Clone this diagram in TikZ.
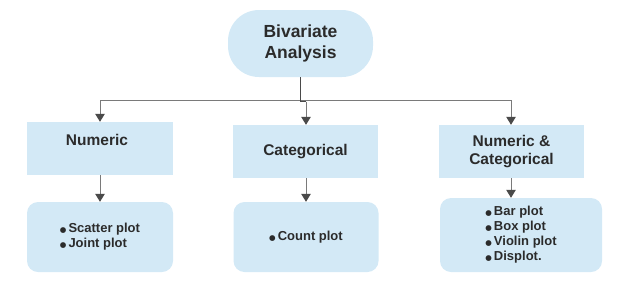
\documentclass[tikz,border=0pt]{standalone}
\usepackage{fontspec}
\setmainfont{Liberation Sans}
\newfontfamily\symfont{DejaVu Sans}
\usetikzlibrary{arrows.meta,calc}
\definecolor{boxfill}{HTML}{D3E9F6}
\definecolor{ink}{HTML}{2B2B2B}
\definecolor{wire}{HTML}{7A7A7A}
\definecolor{tip}{HTML}{4A4A4A}
\tikzset{
  every node/.style={text=ink, font=\bfseries},
  header/.style={fill=boxfill, draw=none, inner sep=0pt, align=center,
    font=\bfseries\fontsize{15.5}{18}\selectfont},
  listbox/.style={fill=boxfill, draw=none, inner sep=0pt, rounded corners=11pt,
    align=left, font=\bfseries\fontsize{13}{15}\selectfont},
  wireline/.style={draw=wire, line width=1pt},
  flow/.style={wireline, -{Triangle[length=8pt,width=9.5pt,fill=tip,color=tip]}},
}
% list bullet: a small filled disc
\newcommand{\itm}{{\symfont\fontsize{7.5}{7.5}\selectfont ●}\hspace{2pt}}
\begin{document}
\begin{tikzpicture}[x=1pt,y=-1pt]
  \useasboundingbox (0,0) rectangle (617,290);

  % root of the tree
  \node[fill=boxfill, rounded corners=31pt, minimum width=145pt, minimum height=67pt,
        inner sep=0pt, align=center, font=\bfseries\fontsize{17.5}{21}\selectfont]
        (root) at (300.5,43.5) {Bivariate\\Analysis};

  % three kinds of variable pairs
  \node[header, minimum width=146pt, minimum height=53pt] (num) at (100,148.5) {};
  \node[text=ink, font=\bfseries\fontsize{15.5}{18}\selectfont] (numlbl) at (97,140) {Numeric};
  \node[header, minimum width=145pt, minimum height=53pt] (cat) at (305.5,151.5) {Categorical};
  \node[header, minimum width=145pt, minimum height=53pt] (mix) at (511.5,151.5) {Numeric \&\\Categorical};

  % plots that suit each kind
  \node[listbox, minimum width=146pt, minimum height=70pt] (numplots) at (100,237)
        {\itm Scatter plot\\\itm Joint plot};
  \node[listbox, minimum width=145pt, minimum height=70pt] (catplots) at (306,237)
        {\itm Count plot};
  \node[listbox, minimum width=162pt, minimum height=74pt] (mixplots) at (521,235)
        {\itm Bar plot\\\itm Box plot\\\itm Violin plot\\\itm Displot.};

  % distribution bus
  \coordinate (busL) at (100,100);
  \coordinate (busR) at (511,100);
  \coordinate (busC) at (306,101.5);
  \draw[wireline] (busL) -- (busR);
  \draw[draw=tip, line width=1.1pt] (root.south -| 300.7,0) -- (300.7,101.5) -- (busC);

  \draw[flow] (busL) -- (num.north -| busL);
  \draw[flow] (busC) -- (cat.north -| busC);
  \draw[flow] (busR) -- (mix.north -| busR);

  % from each kind to its plots
  \draw[flow] (num.south -| 100,0) -- (numplots.north -| 100,0);
  \draw[flow] (cat.south -| 306,0) -- (catplots.north -| 306,0);
  \draw[flow] (mix.south -| 511,0) -- (mixplots.north -| 511,0);
\end{tikzpicture}
\end{document}
